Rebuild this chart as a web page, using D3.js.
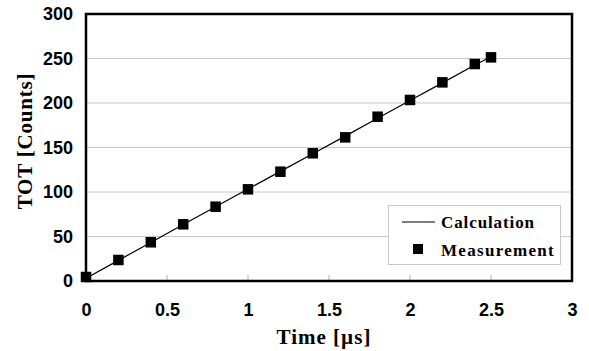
<!DOCTYPE html>
<html><head><meta charset="utf-8">
<script src="https://cdn.jsdelivr.net/npm/d3@7"></script>
<style>html,body{margin:0;padding:0;background:#fff;}svg{display:block;}</style>
</head><body>
<script>
const timeValues = [0, 0.2, 0.4, 0.6, 0.8, 1.0, 1.2, 1.4, 1.6, 1.8, 2.0, 2.2, 2.4, 2.5];
const measurement = [4.5, 23.6, 43.5, 63.7, 83.5, 103, 122.8, 143.5, 161.4, 184.6, 203.4, 223.2, 243.8, 251.3];
const calculation = [3, 23.2, 43.3, 63.4, 83.5, 103.3, 123.2, 143, 162.8, 182.8, 202.8, 222.6, 242.6, 252];
const xTicks = [0, 0.5, 1, 1.5, 2, 2.5, 3];
const yTicks = [0, 50, 100, 150, 200, 250, 300];
const seriesNames = ["Calculation", "Measurement"];

const W = 589, H = 351;
const m = {left: 86, right: 17, top: 14, bottom: 70};
const svg = d3.select("body").append("svg").attr("width", W).attr("height", H);
const x = d3.scaleLinear().domain([0, 3]).range([m.left, W - m.right]);
const y = d3.scaleLinear().domain([0, 300]).range([H - m.bottom, m.top]);

// gridlines
svg.append("g").selectAll("line").data(yTicks.filter(d => d > 0 && d < 300)).join("line")
  .attr("x1", x(0)).attr("x2", x(3)).attr("y1", d => y(d)).attr("y2", d => y(d))
  .attr("stroke", "#c8c8c8").attr("stroke-width", 1);

// inner x ticks
svg.append("g").selectAll("line").data(xTicks.filter(d => d > 0 && d < 3)).join("line")
  .attr("x1", d => x(d)).attr("x2", d => x(d)).attr("y1", y(0)).attr("y2", y(0) - 6)
  .attr("stroke", "#b0b0b0").attr("stroke-width", 1);

// y axis labels
const yAxis = d3.axisLeft(y).tickValues(yTicks).tickSize(0).tickPadding(13);
const gy = svg.append("g").attr("transform", `translate(${x(0)},0)`).call(yAxis);
gy.select(".domain").remove();
gy.selectAll("text").attr("font-family", "Liberation Sans, Arial, sans-serif")
  .attr("font-weight", "bold").attr("font-size", 18).attr("fill", "#000");

// x axis labels
const xAxis = d3.axisBottom(x).tickValues(xTicks).tickSize(0).tickPadding(22).tickFormat(d3.format("~g"));
const gx = svg.append("g").attr("transform", `translate(0,${y(0)})`).call(xAxis);
gx.select(".domain").remove();
gx.selectAll("text").attr("font-family", "Liberation Sans, Arial, sans-serif")
  .attr("font-weight", "bold").attr("font-size", 18).attr("fill", "#000");

// calculation line
const line = d3.line().x((d, i) => x(timeValues[i])).y(d => y(d));
svg.append("path").datum(calculation).attr("d", line)
  .attr("fill", "none").attr("stroke", "#000").attr("stroke-width", 1.2);

// measurement squares
const s = 10.5;
svg.append("g").selectAll("rect").data(measurement).join("rect")
  .attr("x", (d, i) => x(timeValues[i]) - s / 2).attr("y", d => y(d) - s / 2)
  .attr("width", s).attr("height", s).attr("fill", "#000");

// frame
svg.append("rect").attr("x", x(0)).attr("y", y(300)).attr("width", x(3) - x(0)).attr("height", y(0) - y(300))
  .attr("fill", "none").attr("stroke", "#000").attr("stroke-width", 2.5);

// legend
const lg = svg.append("g");
lg.append("rect").attr("x", 388.5).attr("y", 205.5).attr("width", 172).attr("height", 59)
  .attr("fill", "#fff").attr("stroke", "#c8c8c8").attr("stroke-width", 1);
lg.append("line").attr("x1", 402).attr("x2", 435).attr("y1", 222).attr("y2", 222)
  .attr("stroke", "#000").attr("stroke-width", 1.2);
lg.append("rect").attr("x", 413).attr("y", 244).attr("width", 10).attr("height", 10).attr("fill", "#000");
lg.selectAll("text").data(seriesNames).join("text")
  .attr("x", 441).attr("y", (d, i) => 228 + i * 28)
  .attr("font-family", "Liberation Serif, Times New Roman, serif").attr("font-weight", "bold")
  .attr("font-size", 17).attr("letter-spacing", (d, i) => i ? 1.3 : 0.9).attr("fill", "#000").text(d => d);

// axis titles
svg.append("text").attr("x", 324).attr("y", 344).attr("text-anchor", "middle")
  .attr("font-family", "Liberation Serif, Times New Roman, serif").attr("font-weight", "bold")
  .attr("font-size", 21).attr("letter-spacing", 1).attr("fill", "#000").text("Time [µs]");
svg.append("text").attr("transform", "translate(32,141) rotate(-90)").attr("text-anchor", "middle")
  .attr("font-family", "Liberation Serif, Times New Roman, serif").attr("font-weight", "bold")
  .attr("font-size", 21).attr("letter-spacing", 0.8).attr("fill", "#000").text("TOT [Counts]");
</script>
</body></html>
